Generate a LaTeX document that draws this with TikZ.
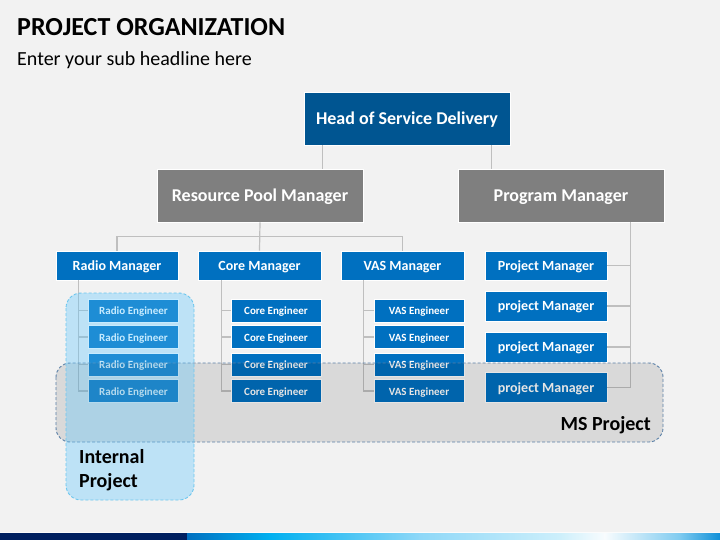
\documentclass[tikz,border=0pt]{standalone}
\usepackage{fontspec}
\setmainfont{Carlito}
\usetikzlibrary{calc}
\definecolor{bg}{HTML}{F2F2F2}
\definecolor{headblue}{HTML}{005591}
\definecolor{mblue}{HTML}{0070C0}
\definecolor{mgray}{HTML}{7F7F7F}
\definecolor{conn}{HTML}{BFBFBF}
\definecolor{navy}{HTML}{002060}
\definecolor{msborder}{HTML}{5A80A8}
\definecolor{ipborder}{HTML}{6CC6EE}
\definecolor{ipfill}{RGB}{89,198,255}
\tikzset{
  boxbase/.style={draw=white, line width=0.6pt, text=white, inner sep=0pt, align=center, text depth=1pt},
  topbox/.style={boxbase, fill=headblue, minimum width=206pt, minimum height=53pt, text height=14pt, font=\fontsize{18}{21}\selectfont\bfseries},
  graybox/.style={boxbase, fill=mgray, minimum width=206pt, minimum height=53pt, text height=14pt, font=\fontsize{18}{21}\selectfont\bfseries},
  mgrbox/.style={boxbase, fill=mblue, minimum width=122pt, minimum height=29pt, text height=10.5pt, font=\fontsize{14}{17}\selectfont\bfseries},
  pmbox/.style={boxbase, fill=mblue, minimum width=122pt, minimum height=30pt, text height=10.8pt, font=\fontsize{14}{17}\selectfont\bfseries},
  engbox/.style={boxbase, fill=mblue, minimum width=90pt, minimum height=23pt, text height=9.2pt, font=\fontsize{11}{13}\selectfont\bfseries},
  connector/.style={draw=conn, line width=1.2pt},
  grpborder/.style={dash pattern=on 3pt off 2pt, line width=0.9pt}
}
\begin{document}
\begin{tikzpicture}[x=1pt,y=-1pt]
\useasboundingbox (0,0) rectangle (720,540);
\fill[bg] (0,0) rectangle (720,540);

% titles
\node[anchor=base west, inner sep=0pt, font=\fontsize{26}{30}\selectfont\bfseries] (title) at (17,36) {PROJECT ORGANIZATION};
\node[anchor=base west, inner sep=0pt, font=\fontsize{20}{24}\selectfont] (subtitle) at (17,66) {Enter your sub headline here};

% top levels
\node[topbox] (head) at (407,118.5) {Head of Service Delivery};
\node[graybox] (rpm) at (260,195.5) {Resource Pool Manager};
\node[graybox] (pm) at (561,195.5) {Program Manager};

% managers
\node[mgrbox] (radio) at (117,265.5) {Radio Manager};
\node[mgrbox, minimum width=123pt] (core) at (259.5,265.5) {Core Manager};
\node[mgrbox, minimum width=123pt] (vas) at (402.5,265.5) {VAS Manager};
\node[mgrbox] (prj1) at (546,265.5) {Project Manager};
\node[pmbox] (prj2) at (546,306) {project Manager};
\node[pmbox] (prj3) at (546,347) {project Manager};
\node[pmbox] (prj4) at (546,387.5) {project Manager};

% engineers
\foreach \i/\y in {1/310.5,2/337,3/364.5,4/391}{
  \node[engbox] (re\i) at (133.5,\y) {Radio Engineer};
  \node[engbox] (ce\i) at (276,\y) {Core Engineer};
  \node[engbox] (ve\i) at (419,\y) {VAS Engineer};
}

% connectors
\draw[connector] ([xshift=19pt]head.south west) -- ([xshift=19pt]head.south west |- rpm.north);
\draw[connector] ([xshift=-19pt]head.south east) -- ([xshift=-19pt]head.south east |- pm.north);
\coordinate (split) at ($(rpm.south)+(0,14)$);
\draw[connector] (radio.north) |- (split) -| (vas.north);
\draw[connector] (rpm.south) -- (core.north);

\draw[connector] ([xshift=23pt]radio.south west) |- (re4.west);
\draw[connector] ([xshift=24pt]core.south west) |- (ce4.west);
\draw[connector] ([xshift=23pt]vas.south west) |- (ve4.west);
\foreach \i in {1,2,3}{
  \draw[connector] ([xshift=23pt]radio.south west |- re\i.west) -- (re\i.west);
  \draw[connector] ([xshift=24pt]core.south west |- ce\i.west) -- (ce\i.west);
  \draw[connector] ([xshift=23pt]vas.south west |- ve\i.west) -- (ve\i.west);
}
\draw[connector] ([xshift=-34pt]pm.south east) |- (prj4.east);
\foreach \p in {prj1,prj2,prj3}{
  \draw[connector] ([xshift=-34pt]pm.south east |- \p.east) -- (\p.east);
}

% group overlays
\fill[black, fill opacity=0.1, rounded corners=14pt] (56,363) rectangle (663,442);
\draw[msborder, grpborder, rounded corners=14pt] (56,363) rectangle (663,442);
\fill[ipfill, fill opacity=0.34, rounded corners=15pt] (66,293) rectangle (194,500);
\draw[ipborder, grpborder, rounded corners=15pt] (66,293) rectangle (194,500);

\node[anchor=east, inner sep=0pt, font=\fontsize{20}{24}\selectfont\bfseries] (mslabel) at (651,425) {MS Project};
\node[anchor=north west, inner sep=0pt, align=left, font=\fontsize{20}{24}\selectfont\bfseries] (iplabel) at (79,449) {Internal\\Project};

% bottom bar
\fill[white!70!bg] (0,532) rectangle (720,533);
\fill[navy] (0,533) rectangle (187,540);
\shade[left color={rgb,255:red,0;green,112;blue,192}, right color={rgb,255:red,0;green,176;blue,240}] (187,533) rectangle (270,540);
\shade[left color={rgb,255:red,0;green,176;blue,240}, right color={rgb,255:red,142;green,216;blue,248}] (269.5,533) rectangle (420,540);
\shade[left color={rgb,255:red,142;green,216;blue,248}, right color={rgb,255:red,205;green,239;blue,251}] (419.5,533) rectangle (560,540);
\shade[left color={rgb,255:red,205;green,239;blue,251}, right color={rgb,255:red,248;green,252;blue,254}] (559.5,533) rectangle (605,540);
\shade[left color={rgb,255:red,248;green,252;blue,254}, right color={rgb,255:red,127;green,203;blue,240}] (604.5,533) rectangle (680,540);
\shade[left color={rgb,255:red,127;green,203;blue,240}, right color={rgb,255:red,16;green,144;blue,216}] (679.5,533) rectangle (720,540);
\end{tikzpicture}
\end{document}
